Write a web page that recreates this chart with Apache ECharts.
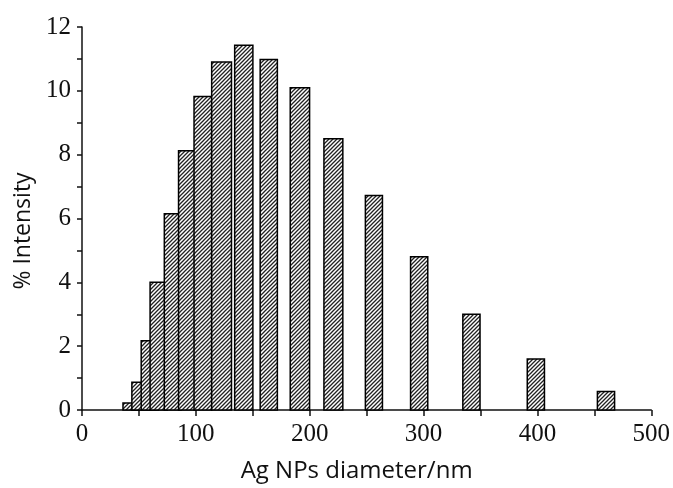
<!DOCTYPE html>
<html>
<head>
<meta charset="utf-8">
<script src="https://cdn.jsdelivr.net/npm/echarts@6/dist/echarts.min.js"></script>
<style>html,body{margin:0;padding:0;background:#fff}#c{width:673px;height:488px}</style>
</head>
<body>
<div id="c"></div>
<script>
// Bin edges (nm) and % intensity values
const binLeft  = [36.0, 43.8, 52.0, 59.8, 72.3, 84.8, 98.4, 113.9, 134.1, 156.5, 182.9, 212.5, 248.9, 288.6, 334.5, 391.1, 452.7];
const binRight = [50.5, 59.2, 67.1, 74.9, 87.1, 99.3, 113.9, 131.3, 150.1, 171.6, 199.9, 229.1, 263.9, 303.7, 349.6, 406.2, 467.8];
const intensity = [0.22, 0.87, 2.17, 4.0, 6.15, 8.12, 9.82, 10.9, 11.43, 10.98, 10.1, 8.5, 6.72, 4.8, 3.0, 1.6, 0.58];
const xTicks = [0, 100, 200, 300, 400, 500];
const yTicks = [0, 2, 4, 6, 8, 10, 12];

// hatch pattern
const pat = document.createElement('canvas');
pat.width = 4; pat.height = 4;
const pc = pat.getContext('2d');
pc.fillStyle = '#fff'; pc.fillRect(0, 0, 4, 4);
pc.strokeStyle = '#222'; pc.lineWidth = 1.3;
pc.beginPath();
pc.moveTo(-1, 5); pc.lineTo(5, -1);
pc.moveTo(-1, 1); pc.lineTo(1, -1);
pc.moveTo(3, 5); pc.lineTo(5, 3);
pc.stroke();

const data = intensity.map((v, i) => [binLeft[i], binRight[i], v]);

const chart = echarts.init(document.getElementById('c'), null, {renderer: 'canvas'});
chart.setOption({
  animation: false,
  grid: {left: 82, right: 17, top: 27, bottom: 76},
  xAxis: {
    type: 'value', min: 0, max: 500, interval: 100,
    name: 'Ag NPs diameter/nm', nameLocation: 'middle', nameGap: 49,
    nameTextStyle: {fontFamily: 'Open Sans', fontSize: 24, color: '#111', padding: [0, 20, 0, 0]},
    axisLine: {onZero: false, lineStyle: {color: '#111', width: 1.5}},
    axisTick: {inside: false, length: 6, lineStyle: {color: '#111', width: 1.5}},
    minorTick: {show: true, splitNumber: 2, length: 6, lineStyle: {color: '#111', width: 1.5}},
    axisLabel: {margin: 12, fontFamily: 'Liberation Serif', fontSize: 25, color: '#111'},
    splitLine: {show: false}
  },
  yAxis: {
    type: 'value', min: 0, max: 12, interval: 2,
    name: '% Intensity', nameLocation: 'middle', nameGap: 47, nameRotate: 90,
    nameTextStyle: {fontFamily: 'Open Sans', fontSize: 23, color: '#111', padding: [0, 25, 0, 0]},
    axisLine: {show: true, lineStyle: {color: '#111', width: 1.5}},
    axisTick: {show: true, length: 5, lineStyle: {color: '#111', width: 1.5}},
    minorTick: {show: true, splitNumber: 2, length: 5, lineStyle: {color: '#111', width: 1.5}},
    axisLabel: {margin: 11, fontFamily: 'Liberation Serif', fontSize: 25, color: '#111'},
    splitLine: {show: false}
  },
  series: [{
    type: 'custom',
    data: data,
    encode: {x: [0, 1], y: 2},
    renderItem: function (params, api) {
      const p0 = api.coord([api.value(0), api.value(2)]);
      const p1 = api.coord([api.value(1), 0]);
      return {
        type: 'rect',
        shape: {x: p0[0], y: p0[1], width: p1[0] - p0[0], height: p1[1] - p0[1]},
        style: {fill: {image: pat, repeat: 'repeat'}, stroke: '#000', lineWidth: 1.5}
      };
    }
  }]
});
</script>
</body>
</html>
